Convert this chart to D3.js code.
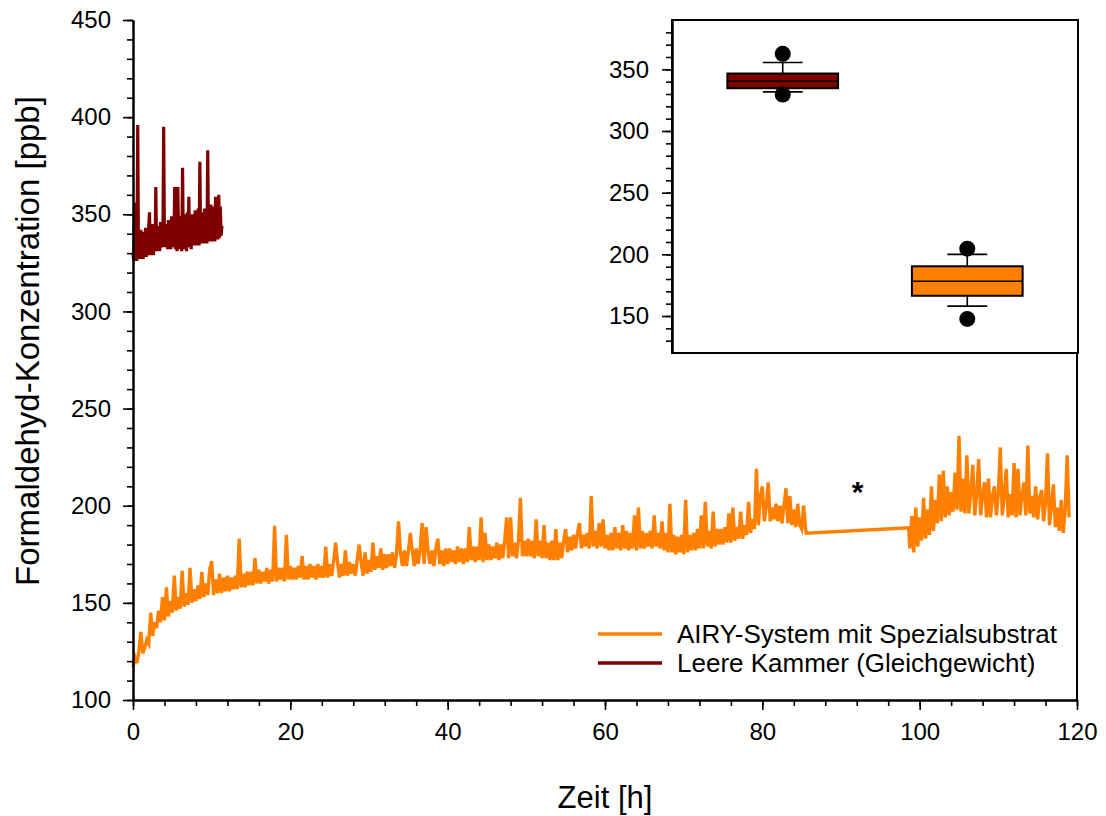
<!DOCTYPE html>
<html>
<head>
<meta charset="utf-8">
<script src="https://cdn.jsdelivr.net/npm/d3@7"></script>
<style>
  body { margin: 0; background: #fff; }
  svg { display: block; font-family: "Liberation Sans", Arial, sans-serif; }
</style>
</head>
<body>
<script>
// AIRY-System mit Spezialsubstrat, first run (t = 0 .. 85.5 h, 0.25 h steps)
const airyStartA = 0;
const airyValuesA = [
  117,122,119,125,135,124,127,131,129,145,133,140,137,146,140,153,141,158,143,151,
  145,164,146,153,147,166.5,148,155,149,168,150,157,151,159,152,166,153,160,154,167,
  171.5,154,162,155,165,155,163,156,164,156,163,157,164,157,183,158,165,158,166,159,
  166,159,173,160,167,160,166,161,168,160,167,161,189.6,161,168,162,168,161,185,162,
  169,162,168,162,169,163,174,162,169,162,170,163,169,162,170,163,169,163,179,163,
  170,164,171,181,171,163,170,164,177,164,171,165,170,164,172,180,171,164,176,165,
  172,166,181,167,174,168,178,167,175,168,175,169,176,168,175,192,176,169,177,169,
  176,186,177,169,178,170,177,191,170,189,177,170,177,169,178,183,170,177,169,178,
  170,178,171,177,170,179,171,178,170,178,171,189,172,179,171,179,172,194,171,186,
  172,180,172,179,173,181,172,180,173,182,194,173,194,174,181,173,182,204,174,182,
  174,183,174,182,173,193,174,182,173,190,173,181,172,182,172,188,172,181,173,182,
  188,176,184,177,185,178,186,191,178,185,179,186,178,205,179,187,178,191,179,193,
  178,185,177,186,177,189,178,186,177,190,178,187,177,186,178,195,177,199,178,187,
  178,186,179,187,178,195,179,186,178,192,177,186,176,201,176,185,175,184,176,185,
  175,203,176,185,177,186,177,188,178,195,178,202,179,187,178,197,179,188,180,188,
  180,189,181,196,181,199,182,189,183,197,183,190,185,202,186,193,188,219,190,205,
  210,192,200,212,192,199,193,201,192,200,191,200,209,191,205,190,198,189,201,190,
  188,200,188
];
// straight segment through the measurement gap (marked with *)
const airyBridgeTimes = [85.6, 98.6];
const airyBridgeValues = [185.8, 188.6];
// second run (t = 98.75 .. 119 h, 0.25 h steps)
const airyStartB = 98.75;
const airyValuesB = [
  178,194.6,176,199,179,194,182,204,183,198,185,210,187,203,191,216,192,218,194,210,
  195,207,197,217,198,236,197,214,196,226,196,207,221,195,206,224,195,206,212,194,
  214,194,205,210,195,206,230,195,205,219,194,206,195,222,194,219,195,205,212,195,
  231,196,205,194,210,193,204,208,192,202,227,190,200,211,189,199,187,203,186,198,
  226,194
];
const airyStep = 0.25;

// Leere Kammer (Gleichgewicht), t = 0 .. 11.3 h, 0.1 h steps
const leerStart = 0;
const leerStep = 0.1;
const leerValues = [
  330,326,356,327,340,326,396,327,338,327,342,328,334,327,341,329,343,328,336,329,
  344,351,329,342,330,345,329,337,331,364,331,344,332,340,331,346,333,343,334,395,
  333,345,334,341,332,347,333,344,332,349,333,346,334,364,332,348,331,364,333,349,
  332,345,331,374,333,350,332,346,331,351,333,359,334,348,332,350,334,347,335,352,
  334,349,335,353,334,377,335,351,336,348,335,353,336,350,335,383,336,352,337,355,
  336,350,337,354,336,359,338,352,337,360,338,354,339,344
];

const xMajorTicks = [0, 20, 40, 60, 80, 100, 120];
const xMinorTicks = d3.range(0, 121, 4);
const yMajorTicks = [100, 150, 200, 250, 300, 350, 400, 450];
const yMinorTicks = d3.range(100, 451, 10);

// inset box plot
const boxNames = ["Leere Kammer (Gleichgewicht)", "AIRY-System mit Spezialsubstrat"];
const boxColors = ["#800000", "#ff8000"];
const boxQ1 = [334.7, 166.4];
const boxMedian = [340.6, 178.2];
const boxQ3 = [346.6, 190.3];
const boxWhiskerLow = [331.7, 158.0];
const boxWhiskerHigh = [355.6, 200.0];
const boxOutlierLow = [329.6, 147.6];
const boxOutlierHigh = [362.6, 204.6];
const insetMajorTicks = [150, 200, 250, 300, 350];
const insetMinorTicks = d3.range(130, 381, 10);

const legendNames = ["AIRY-System mit Spezialsubstrat", "Leere Kammer (Gleichgewicht)"];
const legendColors = ["#ff8000", "#800000"];

const width = 1106, height = 816;
const plot = { left: 133, right: 1077, top: 20, bottom: 700 };

const svg = d3.select("body").append("svg")
  .attr("width", width)
  .attr("height", height);

const x = d3.scaleLinear().domain([0, 120]).range([plot.left, plot.right]);
const y = d3.scaleLinear().domain([100, 450]).range([plot.bottom, plot.top]);

const toPoints = (start, step, vals) => vals.map((v, i) => [start + i * step, v]);

const airyPoints = [
  ...toPoints(airyStartA, airyStep, airyValuesA),
  ...airyBridgeTimes.map((t, i) => [t, airyBridgeValues[i]]),
  ...toPoints(airyStartB, airyStep, airyValuesB)
];
const leerPoints = toPoints(leerStart, leerStep, leerValues);

const line = d3.line().x(d => x(d[0])).y(d => y(d[1]));

svg.append("path")
  .datum(airyPoints)
  .attr("d", line)
  .attr("fill", "none")
  .attr("stroke", "#ff8000")
  .attr("stroke-width", 3.4);

svg.append("path")
  .datum(leerPoints)
  .attr("d", line)
  .attr("fill", "none")
  .attr("stroke", "#800000")
  .attr("stroke-width", 3.2);

// axes
const styleAxis = (g) => {
  g.select(".domain").attr("stroke", "#000").attr("stroke-width", 2);
  g.selectAll(".tick line").attr("stroke", "#000").attr("stroke-width", 1.6);
  g.selectAll(".tick text").attr("fill", "#000").attr("font-size", 24)
    .attr("font-family", "Liberation Sans, Arial, sans-serif");
};

svg.append("g")
  .attr("transform", `translate(0,${plot.bottom})`)
  .call(d3.axisBottom(x).tickValues(xMinorTicks).tickSize(6).tickSizeOuter(0).tickFormat(""))
  .call(styleAxis);
svg.append("g")
  .attr("transform", `translate(0,${plot.bottom})`)
  .call(d3.axisBottom(x).tickValues(xMajorTicks).tickSize(10).tickSizeOuter(0).tickPadding(13))
  .call(styleAxis);

svg.append("g")
  .attr("transform", `translate(${plot.left},0)`)
  .call(d3.axisLeft(y).tickValues(yMinorTicks).tickSize(6).tickSizeOuter(0).tickFormat(""))
  .call(styleAxis);
svg.append("g")
  .attr("transform", `translate(${plot.left},0)`)
  .call(d3.axisLeft(y).tickValues(yMajorTicks).tickSize(10).tickSizeOuter(0).tickPadding(12))
  .call(styleAxis);

// right border
svg.append("line")
  .attr("x1", plot.right).attr("x2", plot.right)
  .attr("y1", plot.top).attr("y2", plot.bottom)
  .attr("stroke", "#000").attr("stroke-width", 2);

// axis titles
svg.append("text")
  .attr("x", (plot.left + plot.right) / 2)
  .attr("y", 808)
  .attr("text-anchor", "middle")
  .attr("font-size", 31)
  .text("Zeit [h]");

svg.append("text")
  .attr("transform", "translate(39,341) rotate(-90)")
  .attr("text-anchor", "middle")
  .attr("font-size", 33)
  .text("Formaldehyd-Konzentration [ppb]");

// gap marker
svg.append("text")
  .attr("x", x(92.1))
  .attr("y", 502)
  .attr("text-anchor", "middle")
  .attr("font-size", 30)
  .attr("font-weight", "bold")
  .text("*");

// legend
const legend = svg.append("g").attr("transform", "translate(598,634)");
legendNames.forEach((name, i) => {
  legend.append("line")
    .attr("x1", 0).attr("x2", 64)
    .attr("y1", i * 29).attr("y2", i * 29)
    .attr("stroke", legendColors[i])
    .attr("stroke-width", 3.5);
  legend.append("text")
    .attr("x", 79)
    .attr("y", i * 29 + 9)
    .attr("font-size", 26)
    .text(name);
});

// inset
const inset = { left: 672, right: 1078, top: 20, bottom: 353 };
svg.append("rect")
  .attr("x", inset.left).attr("y", inset.top)
  .attr("width", inset.right - inset.left)
  .attr("height", inset.bottom - inset.top)
  .attr("fill", "#fff")
  .attr("stroke", "#000")
  .attr("stroke-width", 2);

const iy = d3.scaleLinear().domain([120, 390]).range([inset.bottom, inset.top]);
const ix = d3.scaleBand().domain(boxNames).range([inset.left, inset.right])
  .paddingInner(0.4).paddingOuter(0.3);

svg.append("g")
  .attr("transform", `translate(${inset.left},0)`)
  .call(d3.axisLeft(iy).tickValues(insetMinorTicks).tickSize(6).tickSizeOuter(0).tickFormat(""))
  .call(styleAxis);
svg.append("g")
  .attr("transform", `translate(${inset.left},0)`)
  .call(d3.axisLeft(iy).tickValues(insetMajorTicks).tickSize(10).tickSizeOuter(0).tickPadding(13))
  .call(styleAxis);

const bw = ix.bandwidth();
const capW = bw * 0.36;
boxNames.forEach((name, i) => {
  const cx = ix(name) + bw / 2;
  const g = svg.append("g");
  g.append("line")
    .attr("x1", cx).attr("x2", cx)
    .attr("y1", iy(boxWhiskerHigh[i])).attr("y2", iy(boxWhiskerLow[i]))
    .attr("stroke", "#000").attr("stroke-width", 1.6);
  [boxWhiskerHigh[i], boxWhiskerLow[i]].forEach(v => {
    g.append("line")
      .attr("x1", cx - capW / 2).attr("x2", cx + capW / 2)
      .attr("y1", iy(v)).attr("y2", iy(v))
      .attr("stroke", "#000").attr("stroke-width", 1.6);
  });
  g.append("rect")
    .attr("x", ix(name))
    .attr("y", iy(boxQ3[i]))
    .attr("width", bw)
    .attr("height", iy(boxQ1[i]) - iy(boxQ3[i]))
    .attr("fill", boxColors[i])
    .attr("stroke", "#000")
    .attr("stroke-width", 2);
  g.append("line")
    .attr("x1", ix(name)).attr("x2", ix(name) + bw)
    .attr("y1", iy(boxMedian[i])).attr("y2", iy(boxMedian[i]))
    .attr("stroke", "#000").attr("stroke-width", 1.6);
  [boxOutlierHigh[i], boxOutlierLow[i]].forEach(v => {
    g.append("circle")
      .attr("cx", cx).attr("cy", iy(v))
      .attr("r", 8)
      .attr("fill", "#000");
  });
});
</script>
</body>
</html>
